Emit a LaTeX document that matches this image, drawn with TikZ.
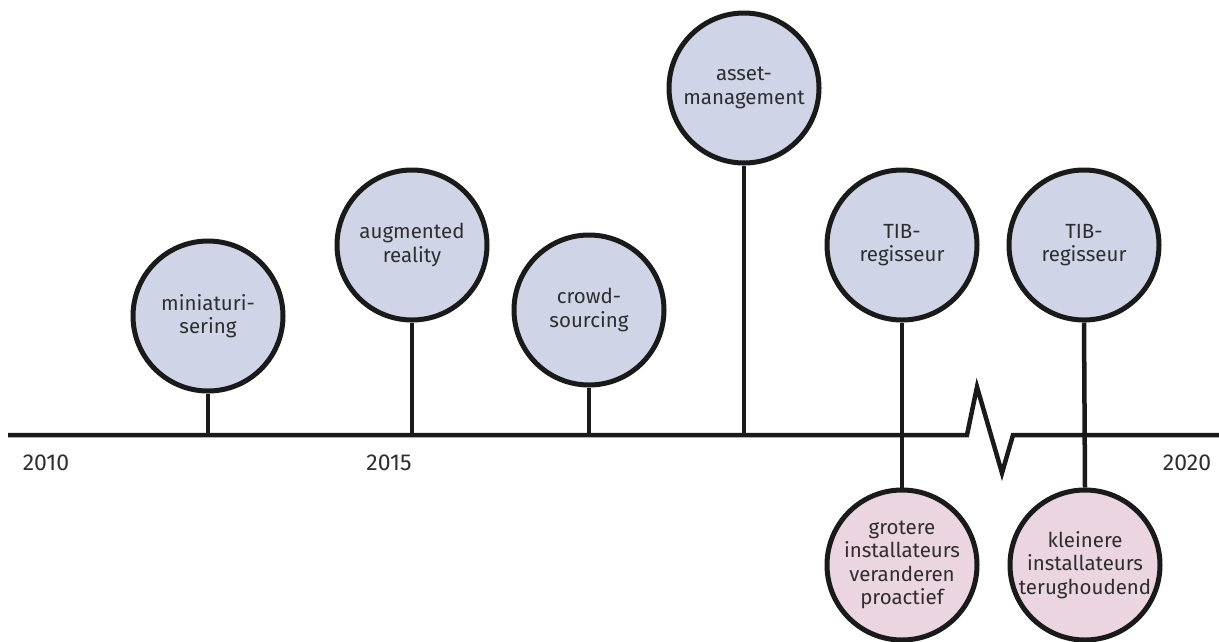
\documentclass[tikz,border=0pt]{standalone}
\usepackage{fontspec}
\setmainfont{Fira Sans}
\usepackage{xcolor}
\usetikzlibrary{positioning,calc}
\definecolor{trendblue}{HTML}{CFD5E6}
\definecolor{effectpink}{HTML}{EBD5E0}
\definecolor{inkline}{HTML}{1A1A1A}
\definecolor{inktext}{HTML}{2E2E2E}

\begin{document}
\begin{tikzpicture}[
    x=1pt, y=-1pt,
    trend/.style={circle, draw=inkline, line width=5pt, fill=trendblue, minimum size=150pt, inner sep=0pt,
      align=center, text=inktext, font=\fontsize{20.5}{23.3}\selectfont},
    effect/.style={trend, fill=effectpink},
    stem/.style={draw=inkline, line width=4.5pt},
    year/.style={text=inktext, font=\fontsize{23}{26}\selectfont, inner sep=0pt}
]
\useasboundingbox (0,0) rectangle (1219,641);

% axis with break
\coordinate (axl) at (8,435);
\coordinate (axr) at (1219,435);
\draw[stem, line join=miter] (axl) -- (967,435) -- (977,387) -- (1002,473) -- (1013,435) -- (axr);

% years
\node[year] (y2010) at (46,463) {2010};
\node[year] (y2015) at (389,463) {2015};
\node[year] (y2020) at (1187,463) {2020};

% trends above the axis
\node[trend] (mini) at (208,316) {miniaturi-\\sering};
\node[trend] (augm) at (412,245) {augmented\\reality};
\node[trend] (crowd) at (589,310) {crowd-\\sourcing};
\node[trend] (asset) at (744,88) {asset-\\management};
\node[trend] (tiba) at (902,245) {TIB-\\regisseur};
\node[trend] (tibb) at (1084,245) {TIB-\\regisseur};

% effects below the axis
\node[effect] (grote) at (902,565) {grotere\\installateurs\\veranderen\\proactief};
\node[effect] (kleine) at (1085,565) {kleinere\\installateurs\\terughoudend};

% stems
\draw[stem] (mini.south) -- (mini.south |- axl);
\draw[stem] (augm.south) -- (augm.south |- axl);
\draw[stem] (crowd.south) -- (crowd.south |- axl);
\draw[stem] (asset.south) -- (asset.south |- axl);
\draw[stem] (tiba.south) -- (grote.north);
\draw[stem] (tibb.south) -- (kleine.north);

\end{tikzpicture}
\end{document}
